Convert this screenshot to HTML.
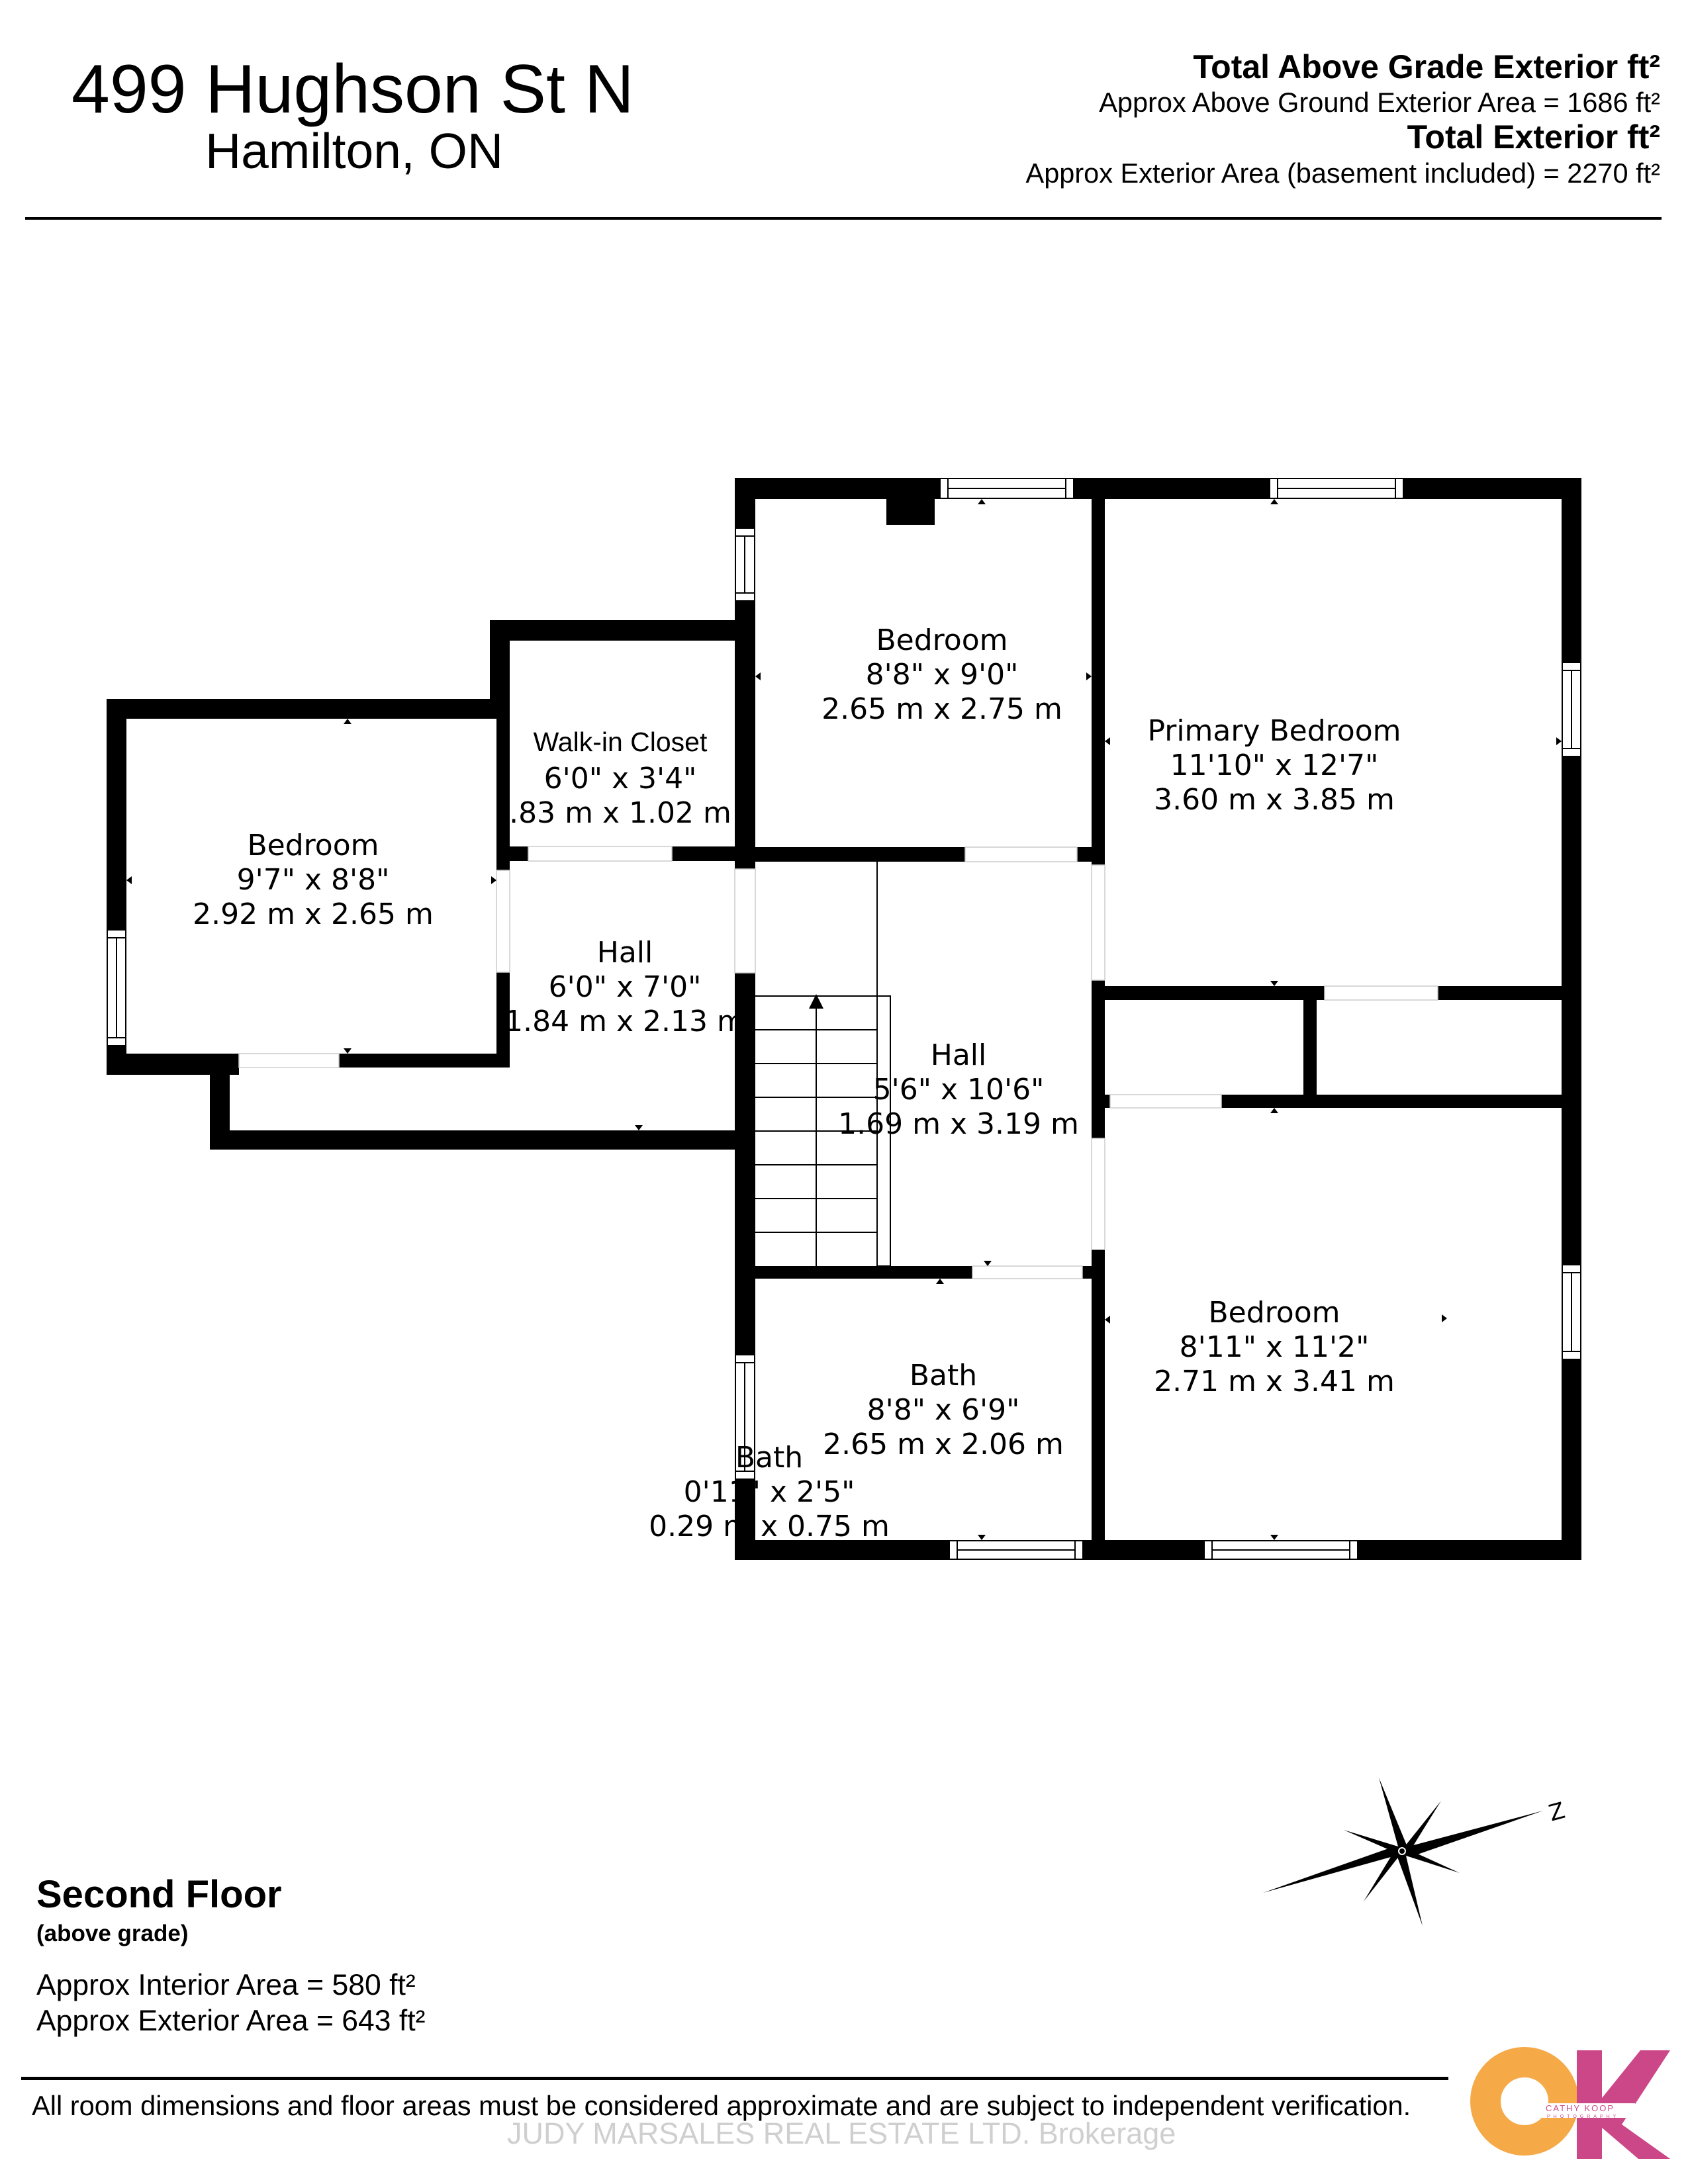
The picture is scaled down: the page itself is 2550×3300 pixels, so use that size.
<!DOCTYPE html>
<html><head><meta charset="utf-8"><style>
body{margin:0;background:#fff;}
.p{position:relative;width:2550px;height:3300px;overflow:hidden;background:#fff;}
.t{position:absolute;font-family:"Liberation Sans",sans-serif;white-space:nowrap;color:#000;}
svg{position:absolute;left:0;top:0;}
</style></head><body><div class="p">
<svg width="2550" height="3300" viewBox="0 0 2550 3300">
<g fill="#000">
<rect x="1110" y="722" width="1279" height="32"/>
<rect x="2359" y="722" width="30" height="1635"/>
<rect x="1110" y="2327" width="1279" height="30"/>
<rect x="1110" y="722" width="31" height="591"/>
<rect x="1110" y="1470" width="31" height="887"/>
<rect x="1649" y="722" width="20" height="585"/>
<rect x="1649" y="1481" width="20" height="239"/>
<rect x="1649" y="1888" width="20" height="469"/>
<rect x="1110" y="1280" width="348" height="22"/>
<rect x="1627" y="1280" width="42" height="22"/>
<rect x="1669" y="1490" width="332" height="21"/>
<rect x="2172" y="1490" width="217" height="21"/>
<rect x="1969" y="1490" width="20" height="184"/>
<rect x="1649" y="1654" width="28" height="20"/>
<rect x="1845" y="1654" width="544" height="20"/>
<rect x="1110" y="1913" width="359" height="19"/>
<rect x="1635" y="1913" width="34" height="19"/>
<rect x="1339" y="754" width="73" height="39"/>
<rect x="740" y="937" width="401" height="31"/>
<rect x="740" y="937" width="30" height="149"/>
<rect x="161" y="1056" width="609" height="30"/>
<rect x="161" y="1056" width="30" height="568"/>
<rect x="750" y="1086" width="20" height="229"/>
<rect x="750" y="1469" width="20" height="144"/>
<rect x="161" y="1592" width="200" height="32"/>
<rect x="512" y="1592" width="258" height="21"/>
<rect x="317" y="1592" width="30" height="145"/>
<rect x="317" y="1708" width="824" height="29"/>
<rect x="770" y="1279" width="28" height="22"/>
<rect x="1015" y="1279" width="126" height="22"/>
</g>
<g fill="#fff" stroke="#000" stroke-width="2">
<rect x="1420" y="723" width="202" height="30"/><line x1="1432" y1="738" x2="1610" y2="738"/><line x1="1432" y1="723" x2="1432" y2="753"/><line x1="1610" y1="723" x2="1610" y2="753"/>
<rect x="1918" y="723" width="202" height="30"/><line x1="1930" y1="738" x2="2108" y2="738"/><line x1="1930" y1="723" x2="1930" y2="753"/><line x1="2108" y1="723" x2="2108" y2="753"/>
<rect x="1434" y="2328" width="202" height="28"/><line x1="1446" y1="2342" x2="1624" y2="2342"/><line x1="1446" y1="2328" x2="1446" y2="2356"/><line x1="1624" y1="2328" x2="1624" y2="2356"/>
<rect x="1819" y="2328" width="232" height="28"/><line x1="1831" y1="2342" x2="2039" y2="2342"/><line x1="1831" y1="2328" x2="1831" y2="2356"/><line x1="2039" y1="2328" x2="2039" y2="2356"/>
<rect x="2360" y="1001" width="28" height="142"/><line x1="2374" y1="1013" x2="2374" y2="1131"/><line x1="2360" y1="1013" x2="2388" y2="1013"/><line x1="2360" y1="1131" x2="2388" y2="1131"/>
<rect x="2360" y="1911" width="28" height="143"/><line x1="2374" y1="1923" x2="2374" y2="2042"/><line x1="2360" y1="1923" x2="2388" y2="1923"/><line x1="2360" y1="2042" x2="2388" y2="2042"/>
<rect x="1111" y="798" width="29" height="110"/><line x1="1125" y1="810" x2="1125" y2="896"/><line x1="1111" y1="810" x2="1140" y2="810"/><line x1="1111" y1="896" x2="1140" y2="896"/>
<rect x="1111" y="2047" width="29" height="188"/><line x1="1125" y1="2059" x2="1125" y2="2223"/><line x1="1111" y1="2059" x2="1140" y2="2059"/><line x1="1111" y1="2223" x2="1140" y2="2223"/>
<rect x="162" y="1405" width="28" height="175"/><line x1="176" y1="1417" x2="176" y2="1568"/><line x1="162" y1="1417" x2="190" y2="1417"/><line x1="162" y1="1568" x2="190" y2="1568"/>
</g>
<g stroke="#ccc" stroke-width="1.5" fill="none">
<rect x="1458" y="1280" width="169" height="22"/><rect x="2001" y="1490" width="171" height="21"/>
<rect x="1677" y="1654" width="168" height="20"/><rect x="1469" y="1913" width="166" height="19"/>
<rect x="1649" y="1307" width="20" height="174"/><rect x="1649" y="1720" width="20" height="168"/>
<rect x="1110" y="1313" width="31" height="157"/><rect x="750" y="1315" width="20" height="154"/>
<rect x="361" y="1592" width="151" height="21"/><rect x="798" y="1279" width="217" height="22"/>
</g>
<g stroke="#000" stroke-width="2" fill="none">
<line x1="1325" y1="1302" x2="1325" y2="1913"/>
<rect x="1325" y="1505" width="20" height="408"/>
<line x1="1141" y1="1505" x2="1325" y2="1505"/>
<line x1="1141" y1="1556" x2="1325" y2="1556"/><line x1="1141" y1="1607" x2="1325" y2="1607"/>
<line x1="1141" y1="1658" x2="1325" y2="1658"/><line x1="1141" y1="1709" x2="1325" y2="1709"/>
<line x1="1141" y1="1760" x2="1325" y2="1760"/><line x1="1141" y1="1811" x2="1325" y2="1811"/>
<line x1="1141" y1="1862" x2="1325" y2="1862"/>
<line x1="1233" y1="1913" x2="1233" y2="1520"/>
</g>
<polygon points="1233,1502 1222,1524 1244,1524" fill="#000"/>
<g fill="#000">
<polygon points="1483,754 1477,762 1489,762"/><polygon points="1925,754 1919,762 1931,762"/>
<polygon points="525,1086 519,1094 531,1094"/><polygon points="1925,1490 1919,1482 1931,1482"/>
<polygon points="1925,1674 1919,1682 1931,1682"/><polygon points="525,1592 519,1584 531,1584"/>
<polygon points="965,1708 959,1700 971,1700"/><polygon points="1492,1913 1486,1905 1498,1905"/>
<polygon points="1420,1932 1414,1940 1426,1940"/><polygon points="2186,1992 2178,1986 2178,1998"/>
<polygon points="1669,1994 1677,1988 1677,2000"/><polygon points="1669,1120 1677,1114 1677,1126"/>
<polygon points="2359,1120 2351,1114 2351,1126"/><polygon points="1141,1022 1149,1016 1149,1028"/>
<polygon points="1649,1022 1641,1016 1641,1028"/><polygon points="191,1330 199,1324 199,1336"/>
<polygon points="750,1330 742,1324 742,1336"/><polygon points="1483,2327 1477,2319 1489,2319"/>
<polygon points="1925,2327 1919,2319 1931,2319"/>
</g>
<g>
<polygon points="2331,2736 2128,2790 2118,2797 2130,2806" fill="#000"/>
<polygon points="1908,2860 2108,2804 2118,2797 2106,2790" fill="#000"/>
<polygon points="2083,2686 2112,2790 2118,2797 2125,2788" fill="#000"/>
<polygon points="2149,2910 2124,2804 2118,2797 2111,2806" fill="#000"/>
<polygon points="2177,2721 2122,2790 2118,2797 2128,2800" fill="#000"/>
<polygon points="2060,2873 2114,2804 2118,2797 2108,2794" fill="#000"/>
<polygon points="2030,2765 2112,2790 2118,2797 2110,2800" fill="#000"/>
<polygon points="2205,2830 2124,2804 2118,2797 2126,2794" fill="#000"/>
<circle cx="2118" cy="2797" r="6" fill="#fff"/><circle cx="2118" cy="2797" r="4" fill="#000"/>
<text x="2340" y="2748" font-family="DejaVu Sans,sans-serif" font-size="34" transform="rotate(-15 2356 2736)">Z</text>
</g>
<rect x="38" y="328" width="2472" height="4" fill="#000"/>
<rect x="32" y="3138" width="2156" height="5" fill="#000"/>
<circle cx="2303" cy="3175" r="59" fill="none" stroke="#f5a947" stroke-width="46"/>
<polygon points="2382,3098 2420,3098 2420,3170 2478,3098 2523,3098 2450,3210 2523,3262 2475,3262 2420,3215 2420,3262 2382,3262" fill="#cc4788"/>
<rect x="2330" y="3178" width="140" height="22" fill="#fff"/>
<text x="2335" y="3190" font-family="Liberation Sans,sans-serif" font-size="13" fill="#cc4788" letter-spacing="2">CATHY KOOP</text>
<text x="2337" y="3200" font-family="Liberation Sans,sans-serif" font-size="7" fill="#cc4788" letter-spacing="5">PHOTOGRAPHY</text>
</svg>
<div class="t" style="left:108px;top:76px;font-size:104px;">499 Hughson St N</div>
<div class="t" style="left:310px;top:185px;font-size:75px;">Hamilton, ON</div>
<div class="t" style="right:42px;top:72px;font-size:50px;font-weight:bold;">Total Above Grade Exterior ft²</div>
<div class="t" style="right:42px;top:131px;font-size:41.5px;">Approx Above Ground Exterior Area = 1686 ft²</div>
<div class="t" style="right:42px;top:178px;font-size:50px;font-weight:bold;">Total Exterior ft²</div>
<div class="t" style="right:42px;top:238px;font-size:41.5px;">Approx Exterior Area (basement included) = 2270 ft²</div>
<div style="position:absolute;left:0;top:0;font-family:'DejaVu Sans',sans-serif;font-size:44px;line-height:52px;text-align:center;">
<div style="position:absolute;left:1223px;top:942px;width:400px;">Bedroom<br>8'8" x 9'0"<br>2.65 m x 2.75 m</div>
<div style="position:absolute;left:1675px;top:1079px;width:500px;">Primary Bedroom<br>11'10" x 12'7"<br>3.60 m x 3.85 m</div>
<div style="position:absolute;left:737px;top:1095px;width:400px;font-family:'Liberation Sans',sans-serif;font-size:41px;">Walk-in Closet</div>
<div style="position:absolute;left:737px;top:1151px;width:400px;">6'0" x 3'4"<br>.83 m x 1.02 m</div>
<div style="position:absolute;left:273px;top:1252px;width:400px;">Bedroom<br>9'7" x 8'8"<br>2.92 m x 2.65 m</div>
<div style="position:absolute;left:744px;top:1414px;width:400px;">Hall<br>6'0" x 7'0"<br>1.84 m x 2.13 m</div>
<div style="position:absolute;left:1248px;top:1569px;width:400px;">Hall<br>5'6" x 10'6"<br>1.69 m x 3.19 m</div>
<div style="position:absolute;left:1725px;top:1958px;width:400px;">Bedroom<br>8'11" x 11'2"<br>2.71 m x 3.41 m</div>
<div style="position:absolute;left:1225px;top:2053px;width:400px;">Bath<br>8'8" x 6'9"<br>2.65 m x 2.06 m</div>
<div style="position:absolute;left:962px;top:2177px;width:400px;">Bath<br>0'11" x 2'5"<br>0.29 m x 0.75 m</div>
</div>
<div class="t" style="left:55px;top:2829px;font-size:58px;font-weight:bold;">Second Floor</div>
<div class="t" style="left:55px;top:2902px;font-size:35px;font-weight:bold;">(above grade)</div>
<div class="t" style="left:55px;top:2975px;font-size:44.5px;">Approx Interior Area = 580 ft²</div>
<div class="t" style="left:55px;top:3029px;font-size:44.5px;">Approx Exterior Area = 643 ft²</div>
<div class="t" style="left:48px;top:3158px;font-size:41.6px;">All room dimensions and floor areas must be considered approximate and are subject to independent verification.</div>
<div class="t" style="left:766px;top:3198px;font-size:45px;color:#cfcfcf;">JUDY MARSALES REAL ESTATE LTD. Brokerage</div>
</div></body></html>
